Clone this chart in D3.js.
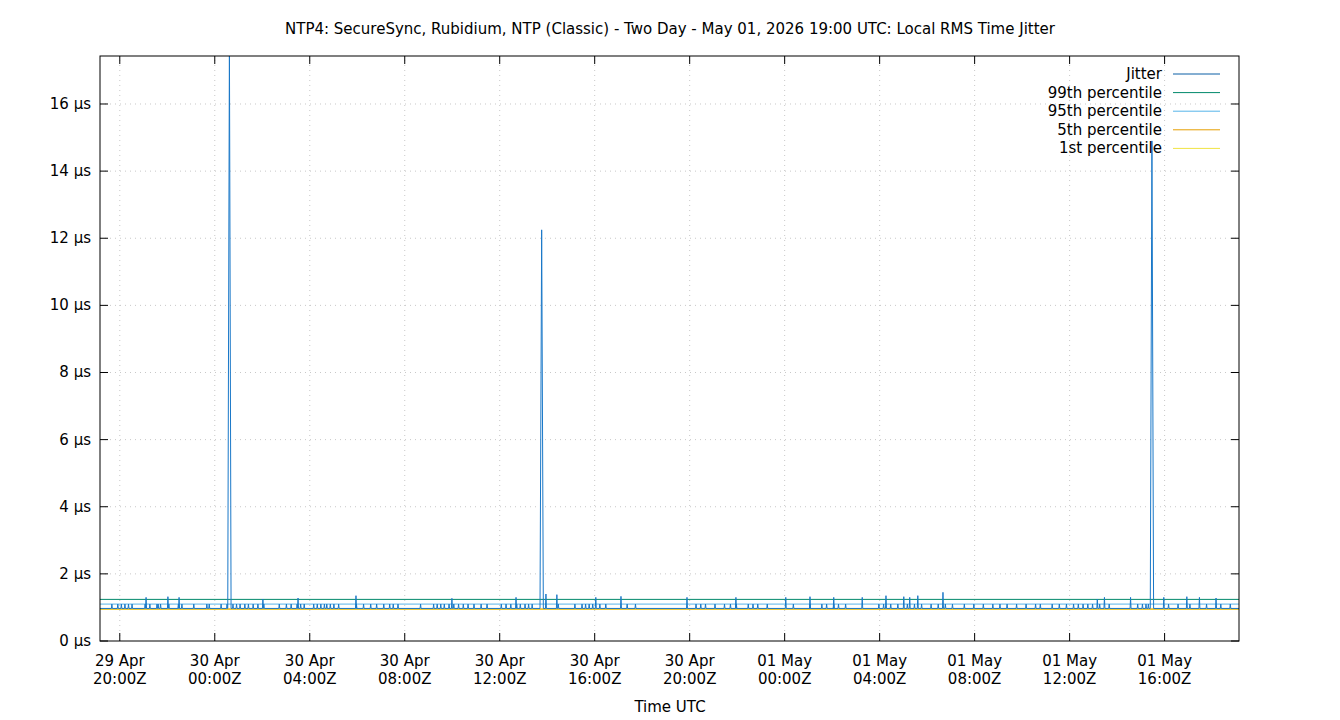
<!DOCTYPE html>
<html>
<head>
<meta charset="utf-8">
<script src="https://cdn.jsdelivr.net/npm/d3@7"></script>
<style>
  body { margin: 0; background: #fff; }
  text { font-family: "DejaVu Sans", sans-serif; }
</style>
</head>
<body>
<div id="chart"></div>
<script>
// window start / end (UTC)
const startTime = Date.UTC(2026, 3, 29, 19, 10);
const endTime = Date.UTC(2026, 4, 1, 19, 8);

// jitter series, in µs; spikes given as [hours after start, value]
const baseJitter = 0.97;
const bigSpikes = [[5.45, 17.8], [18.6, 12.25], [44.3, 14.9]];
const mediumSpikes = [
  [1.94, 1.3], [2.86, 1.32], [3.33, 1.3], [6.86, 1.25], [8.34, 1.28], [10.78, 1.35],
  [14.82, 1.27], [17.52, 1.3], [18.78, 1.4], [19.24, 1.38], [20.88, 1.3], [21.94, 1.33],
  [24.72, 1.3], [26.78, 1.3], [28.88, 1.3], [29.9, 1.32], [30.9, 1.3], [32.1, 1.3],
  [33.1, 1.35], [33.85, 1.32], [34.1, 1.3], [34.44, 1.35], [35.5, 1.45], [42.0, 1.25],
  [42.3, 1.3], [43.4, 1.3], [44.8, 1.3], [45.77, 1.32], [46.3, 1.3], [47.0, 1.28]
];
const smallSpikes = [
  0.5, 0.75, 0.9, 1.05, 1.2, 1.35, 1.9, 2.1, 2.4, 2.45, 2.55, 2.9, 3.3, 3.45, 3.95, 4.5, 4.6,
  5.1, 5.35, 5.6, 5.75, 5.9, 6.1, 6.25, 6.45, 6.65, 6.9, 7.55, 7.85, 8.05, 8.3, 8.45, 8.6,
  9.0, 9.15, 9.3, 9.45, 9.55, 9.7, 9.85, 10.05, 10.8, 11.1, 11.4, 11.65, 11.95, 12.2, 12.35,
  12.55, 13.5, 14.05, 14.2, 14.35, 14.5, 14.7, 14.9, 15.1, 15.3, 15.5, 15.75, 16.05, 16.3,
  16.9, 17.1, 17.3, 17.55, 17.7, 17.9, 18.05, 18.2, 19.3, 20.0, 20.3, 20.45, 20.6, 20.75,
  21.05, 21.3, 22.2, 22.55, 25.1, 25.3, 25.5, 25.9, 26.3, 26.55, 26.8, 27.3, 27.5, 27.7,
  28.1, 29.2, 29.9, 30.4, 30.6, 30.9, 31.1, 31.4, 32.8, 33.0, 33.3, 33.6, 34.0, 34.3, 34.6,
  35.0, 35.3, 35.6, 35.9, 36.4, 36.8, 37.2, 37.6, 37.9, 38.2, 38.6, 39.0, 39.4, 39.6, 40.1,
  40.4, 40.7, 41.0, 41.2, 41.4, 41.6, 41.8, 42.1, 42.5, 43.7, 43.9, 44.05, 44.15, 45.0,
  45.4, 45.9, 46.6, 47.2, 47.6
];
const smallValue = 1.1;

// percentile levels, µs
const percentileNames = ['Jitter', '99th percentile', '95th percentile', '5th percentile', '1st percentile'];
const percentileValues = [null, 1.24, 1.10, 0.955, 0.945];
const seriesColors = ['#0a5fa5', '#00886a', '#56b4e9', '#e69f00', '#f0e442'];

const yTicks = [0, 2, 4, 6, 8, 10, 12, 14, 16];

// build the jitter line from baseline + spikes
const spikes = bigSpikes.map(d => ({t: d[0], v: d[1], w: 0.07}))
  .concat(mediumSpikes.map(d => ({t: d[0], v: d[1], w: 0.02})))
  .concat(smallSpikes.map(t => ({t: t, v: smallValue, w: 0.02})))
  .sort((a, b) => a.t - b.t);
const hour = 3600 * 1000;
const jitter = [{t: 0, v: baseJitter}];
spikes.forEach(s => {
  jitter.push({t: s.t - s.w, v: baseJitter});
  jitter.push({t: s.t, v: s.v});
  jitter.push({t: s.t + s.w, v: baseJitter});
});
jitter.push({t: (endTime - startTime) / hour, v: baseJitter});

const width = 1340, height = 720;
const margin = {top: 56, right: 101, bottom: 79, left: 100};

const svg = d3.select('#chart').append('svg')
  .attr('width', width).attr('height', height);

const x = d3.scaleUtc()
  .domain([new Date(startTime), new Date(endTime)])
  .range([margin.left, width - margin.right]);
const y = d3.scaleLinear()
  .domain([0, 17.43])
  .range([height - margin.bottom, margin.top]);

const xTicks = d3.utcHour.every(4).range(new Date(startTime), new Date(endTime));

// grid
const grid = svg.append('g').attr('stroke', '#c8c8c8').attr('stroke-dasharray', '1,4');
grid.selectAll('.gx').data(xTicks).enter().append('line')
  .attr('x1', d => x(d)).attr('x2', d => x(d))
  .attr('y1', y.range()[0]).attr('y2', y.range()[1]);
grid.selectAll('.gy').data(yTicks.slice(1)).enter().append('line')
  .attr('x1', x.range()[0]).attr('x2', x.range()[1])
  .attr('y1', d => y(d)).attr('y2', d => y(d));

svg.append('clipPath').attr('id', 'clip').append('rect')
  .attr('x', margin.left).attr('y', margin.top)
  .attr('width', width - margin.left - margin.right)
  .attr('height', height - margin.top - margin.bottom);

const plot = svg.append('g').attr('clip-path', 'url(#clip)');

// percentile lines (draw bottom ones first)
[4, 3, 2, 1].forEach(i => {
  plot.append('line')
    .attr('x1', x.range()[0]).attr('x2', x.range()[1])
    .attr('y1', y(percentileValues[i])).attr('y2', y(percentileValues[i]))
    .attr('stroke', seriesColors[i]).attr('stroke-width', 1);
});

const line = d3.line()
  .x(d => x(new Date(startTime + d.t * hour)))
  .y(d => y(d.v));
plot.append('path').datum(jitter)
  .attr('d', line).attr('fill', 'none')
  .attr('stroke', '#1a78c8').attr('stroke-width', 1);

// frame
svg.append('rect')
  .attr('x', margin.left).attr('y', margin.top)
  .attr('width', width - margin.left - margin.right)
  .attr('height', height - margin.top - margin.bottom)
  .attr('fill', 'none').attr('stroke', '#000');

// x axis ticks (inward, bottom and top)
const fmtDay = d3.utcFormat('%d %b');
const fmtTime = d3.utcFormat('%H:%MZ');
const xt = svg.append('g');
xTicks.forEach(d => {
  xt.append('line').attr('x1', x(d)).attr('x2', x(d))
    .attr('y1', y.range()[0]).attr('y2', y.range()[0] - 8).attr('stroke', '#000');
  xt.append('line').attr('x1', x(d)).attr('x2', x(d))
    .attr('y1', y.range()[1]).attr('y2', y.range()[1] + 8).attr('stroke', '#000');
  const t = xt.append('text').attr('text-anchor', 'middle').attr('font-size', 15);
  t.append('tspan').attr('x', x(d)).attr('y', 666).text(fmtDay(d));
  t.append('tspan').attr('x', x(d)).attr('y', 684).text(fmtTime(d));
});

// y axis ticks
const yt = svg.append('g');
yTicks.forEach(d => {
  yt.append('line').attr('x1', x.range()[0]).attr('x2', x.range()[0] + 8)
    .attr('y1', y(d)).attr('y2', y(d)).attr('stroke', '#000');
  yt.append('line').attr('x1', x.range()[1]).attr('x2', x.range()[1] - 8)
    .attr('y1', y(d)).attr('y2', y(d)).attr('stroke', '#000');
  yt.append('text').attr('x', 91).attr('y', y(d) + 5)
    .attr('text-anchor', 'end').attr('font-size', 15).text(d + ' µs');
});

svg.append('text').attr('x', 670).attr('y', 34).attr('text-anchor', 'middle')
  .attr('font-size', 15)
  .text('NTP4: SecureSync, Rubidium, NTP (Classic) - Two Day - May 01, 2026 19:00 UTC: Local RMS Time Jitter');
svg.append('text').attr('x', 670).attr('y', 712).attr('text-anchor', 'middle')
  .attr('font-size', 15).text('Time UTC');

// legend
const legend = svg.append('g');
percentileNames.forEach((name, i) => {
  const ly = 74 + i * 18.6;
  legend.append('text').attr('x', 1162).attr('y', ly + 5)
    .attr('text-anchor', 'end').attr('font-size', 15).text(name);
  legend.append('line').attr('x1', 1173).attr('x2', 1220)
    .attr('y1', ly).attr('y2', ly).attr('stroke', seriesColors[i]);
});
</script>
</body>
</html>
